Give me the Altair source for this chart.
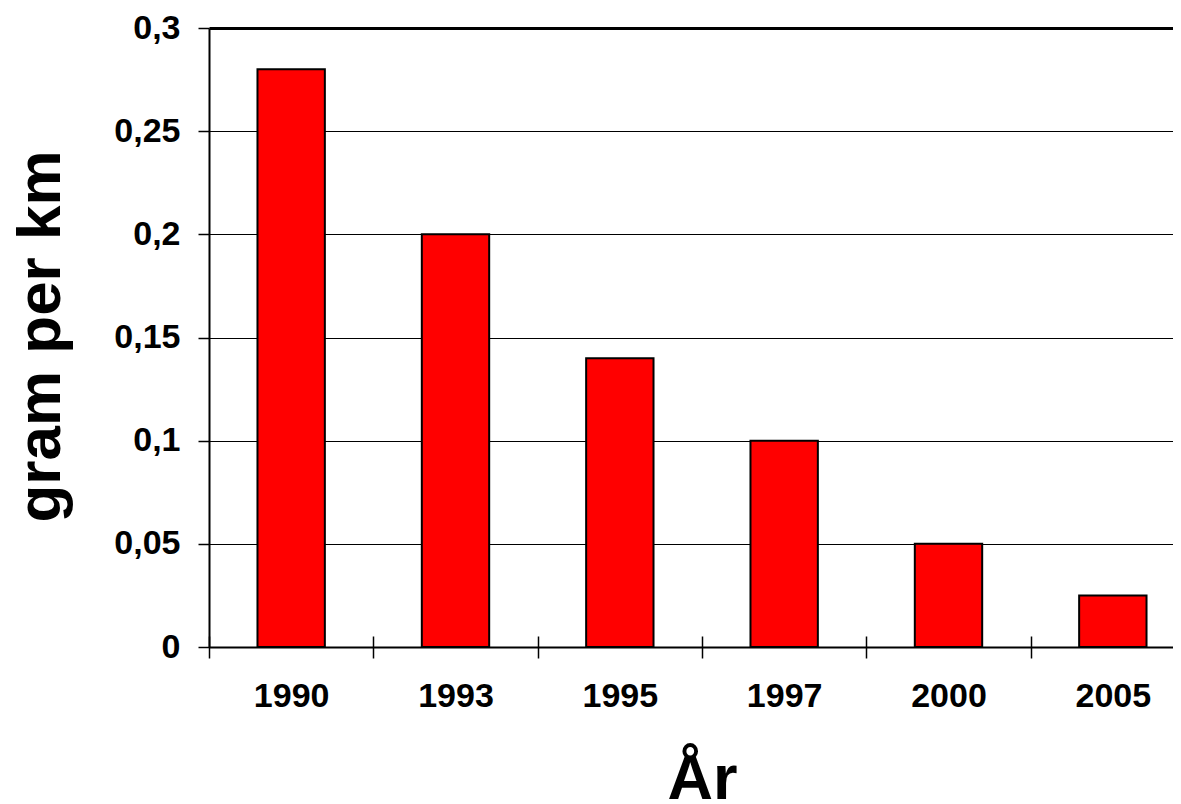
import altair as alt
import pandas as pd

years = ["1990", "1993", "1995", "1997", "2000", "2005"]
values = [0.28, 0.20, 0.14, 0.10, 0.05, 0.025]
y_ticks = [0, 0.05, 0.1, 0.15, 0.2, 0.25, 0.3]

df = pd.DataFrame({"year": years, "value": values})

FONT = "Arial, Liberation Sans, sans-serif"

x_axis = alt.Axis(
    labelAngle=0, tickBand="extent", domain=False, offset=-11,
    tickSize=22, tickColor="black", tickWidth=1.5, labelPadding=21,
    labelFont=FONT, labelFontSize=34, labelFontWeight="bold", labelColor="black",
    titleFont=FONT, titleFontSize=63, titleFontWeight="bold", titleColor="black",
    titleX=493, titleY=162, titleBaseline="alphabetic", titleAlign="center",
)

y_axis = alt.Axis(
    values=y_ticks,
    labelExpr="replace(format(datum.value, '.2~f'), '.', ',')",
    grid=True, gridColor="black",
    gridWidth={"condition": [{"test": "datum.value >= 0.29", "value": 3},
                             {"test": "datum.value <= 0.001", "value": 2}],
               "value": 1},
    domainColor="black", domainWidth=2,
    tickSize=11, tickColor="black", tickWidth=1.5, labelPadding=18,
    labelFont=FONT, labelFontSize=34, labelFontWeight="bold", labelColor="black",
    titleFont=FONT, titleFontSize=62, titleFontWeight="bold", titleColor="black",
    titleX=-150, titleY=308, titleAngle=270, titleBaseline="alphabetic", titleAlign="center",
)

chart = alt.Chart(df).mark_bar(
    color="#FF0000", stroke="#000000", strokeWidth=2,
    width=alt.RelativeBandSize(0.41),
).encode(
    x=alt.X("year:N", sort=years, title="År",
            scale=alt.Scale(range=[0, 986], paddingInner=0, paddingOuter=0),
            axis=x_axis),
    y=alt.Y("value:Q", title="gram per km",
            scale=alt.Scale(domain=[0, 0.3], nice=False),
            axis=y_axis),
).properties(
    width=964, height=619,
    padding={"left": 201, "top": 20, "right": 0, "bottom": 157},
    autosize="none",
).configure_view(stroke=None)

chart.save("out.html", embed_options={"renderer": "svg", "actions": False})
